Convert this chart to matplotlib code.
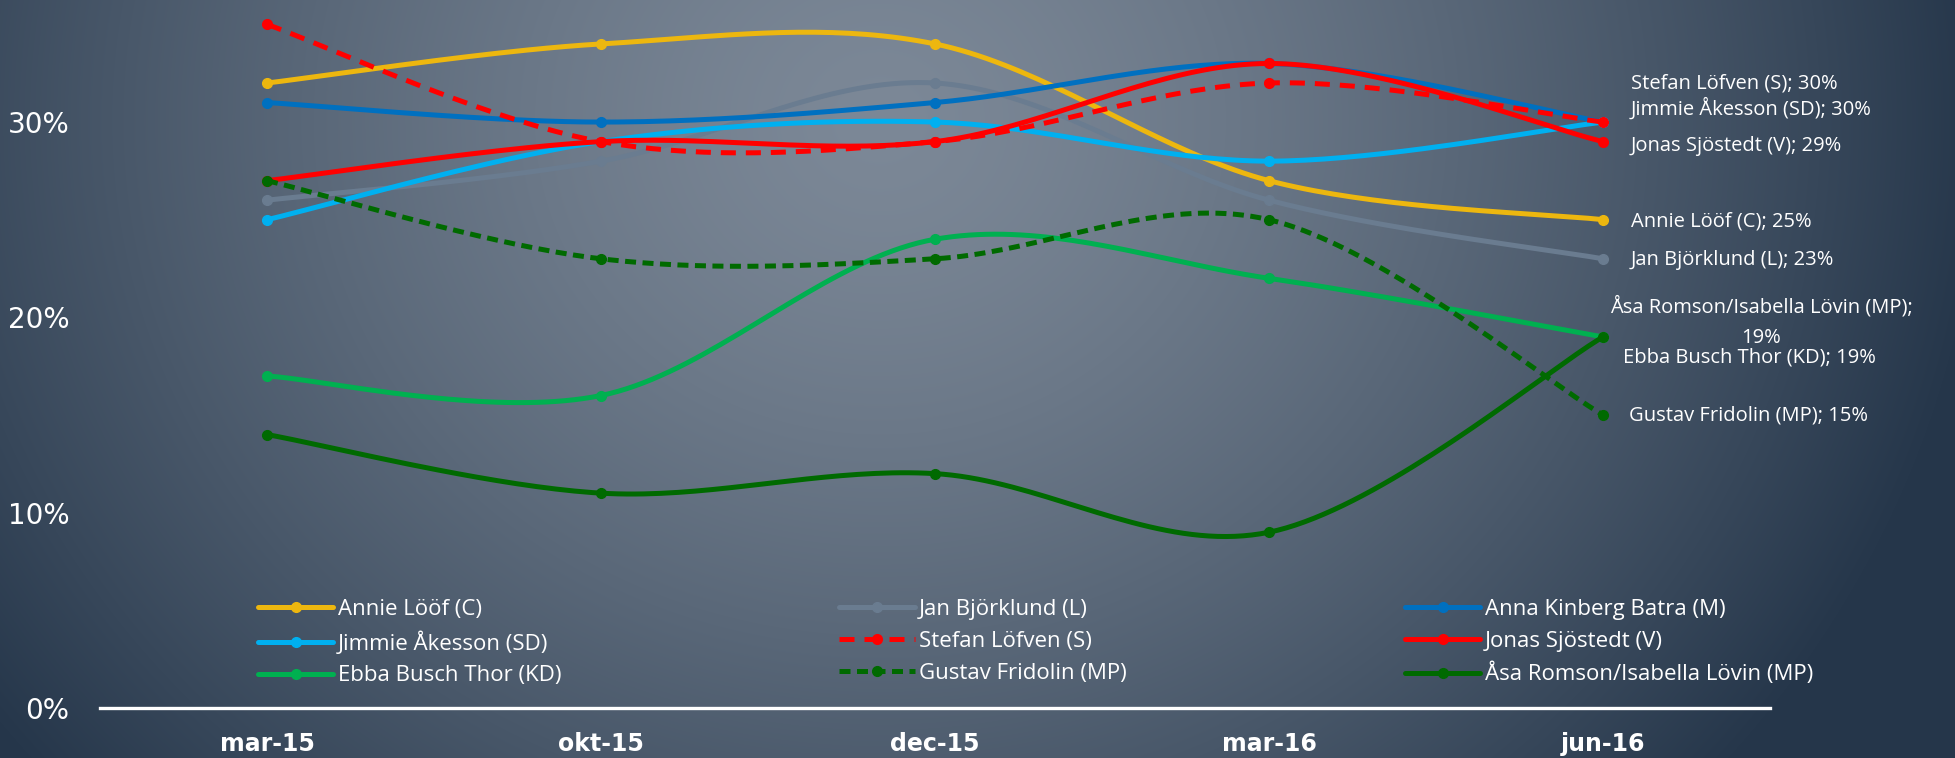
import numpy as np
import matplotlib.pyplot as plt
from matplotlib.lines import Line2D

# data
periods = ['mar-15', 'okt-15', 'dec-15', 'mar-16', 'jun-16']
names = ['Annie Lööf (C)', 'Jan Björklund (L)', 'Anna Kinberg Batra (M)',
         'Jimmie Åkesson (SD)', 'Stefan Löfven (S)', 'Jonas Sjöstedt (V)',
         'Ebba Busch Thor (KD)', 'Gustav Fridolin (MP)', 'Åsa Romson/Isabella Lövin (MP)']
annie = [32, 34, 34, 27, 25]
jan = [26, 28, 32, 26, 23]
anna = [31, 30, 31, 33, 30]
jimmie = [25, 29, 30, 28, 30]
stefan = [35, 29, 29, 32, 30]
jonas = [27, 29, 29, 33, 29]
ebba = [17, 16, 24, 22, 19]
gustav = [27, 23, 23, 25, 15]
asa = [14, 11, 12, 9, 19]
series = [annie, jan, anna, jimmie, stefan, jonas, ebba, gustav, asa]

colors = ['#EDB70F', '#6A7C90', '#0070C0', '#00B0F0', '#FF0000', '#FF0000',
          '#00B050', '#006A00', '#006A00']
styles = ['-', '-', '-', '-', (0, (3, 2)), '-', '-', (0, (2.2, 1.3)), '-']

# label offsets (pixels) for last point, None = no label
lab_off = [(28, -2), (28, -1), None, (28, 14), (28, 39), (28, -4),
           (20, -21), (26, 0), (158, 15)]


def smooth(x, y, n=40):
    # Excel-like smoothed line (bezier through points)
    x = np.asarray(x, float)
    y = np.asarray(y, float)
    px = np.concatenate([[x[0]], x, [x[-1]]])
    py = np.concatenate([[y[0]], y, [y[-1]]])
    xs, ys = [], []
    t = np.linspace(0, 1, n)
    for i in range(1, len(px) - 2):
        p0 = np.array([px[i], py[i]])
        p3 = np.array([px[i + 1], py[i + 1]])
        c1 = p0 + (p3 - np.array([px[i - 1], py[i - 1]])) / 6
        c2 = p3 - (np.array([px[i + 2], py[i + 2]]) - p0) / 6
        b = ((1 - t) ** 3)[:, None] * p0 + (3 * (1 - t) ** 2 * t)[:, None] * c1 \
            + (3 * (1 - t) * t ** 2)[:, None] * c2 + (t ** 3)[:, None] * p3
        xs.append(b[:, 0])
        ys.append(b[:, 1])
    return np.concatenate(xs), np.concatenate(ys)


fig = plt.figure(figsize=(19.55, 7.58), dpi=100)

# background gradient
bg = fig.add_axes([0, 0, 1, 1], zorder=-10)
W, H = 1955, 758
gx, gy = np.meshgrid(np.arange(W), np.arange(H))
d = np.sqrt((gx - 880) ** 2 + ((gy - 120) * 1.1) ** 2) / 1100
d = np.clip(d, 0, 1) ** 1.4
light = np.array([124, 136, 151]) / 255
dark = np.array([38, 55, 75]) / 255
img = light[None, None, :] * (1 - d[..., None]) + dark[None, None, :] * d[..., None]
bg.imshow(img, aspect='auto', extent=(0, 1, 0, 1))
bg.axis('off')

ax = fig.add_axes([100 / W, 50 / H, 1670 / W, 708 / H])
ax.set_facecolor('none')
ax.set_xlim(-0.5, 4.5)
ax.set_ylim(0, 36.25)
x = np.arange(len(periods))

handles = []
for i, (vals, name) in enumerate(zip(series, names)):
    sx, sy = smooth(x, vals)
    ax.plot(sx, sy, color=colors[i], lw=3.6, ls=styles[i],
            solid_capstyle='round', zorder=3 + i, clip_on=False)
    ax.plot(x, vals, 'o', color=colors[i], ms=7, zorder=3 + i, clip_on=False)
    handles.append(Line2D([], [], color=colors[i], lw=3.6, ls=styles[i],
                          marker='o', ms=7, solid_capstyle='round'))
    if lab_off[i] is not None:
        dx, dy = lab_off[i]
        txt = f'{name}; {vals[-1]}%'
        ha = 'left'
        if i == 8:
            txt = f'{name};\n{vals[-1]}%'
            ha = 'center'
        ax.annotate(txt, (x[-1], vals[-1]), xytext=(dx, dy),
                    textcoords='offset pixels', ha=ha, va='center',
                    color='white', fontsize=14.5, family='Open Sans',
                    linespacing=1.65, annotation_clip=False)

order = [0, 3, 6, 1, 4, 7, 2, 5, 8]
leg = ax.legend([handles[k] for k in order], [names[k] for k in order],
                ncol=3, loc='upper left', bbox_to_anchor=(0.0826, 0.182),
                frameon=False, handlelength=3.4, handletextpad=0.2,
                columnspacing=12.5, labelspacing=0.49,
                prop={'family': 'Open Sans', 'size': 16})
for t in leg.get_texts():
    t.set_color('white')

ax.set_xticks(x)
ax.set_xticklabels(periods, fontsize=17, fontweight='bold', color='white',
                   family='DejaVu Sans')
ax.tick_params(axis='x', length=0, pad=17.5)
ax.set_yticks([0, 10, 20, 30])
ax.set_yticklabels(['0%', '10%', '20%', '30%'], fontsize=20, color='white',
                   family=['Liberation Sans Narrow', 'DejaVu Sans'])
ax.tick_params(axis='y', length=0, pad=22)
for s in ['top', 'right', 'left']:
    ax.spines[s].set_visible(False)
ax.spines['bottom'].set_color('white')
ax.spines['bottom'].set_linewidth(2.4)

fig.savefig('out.png', dpi=100)
